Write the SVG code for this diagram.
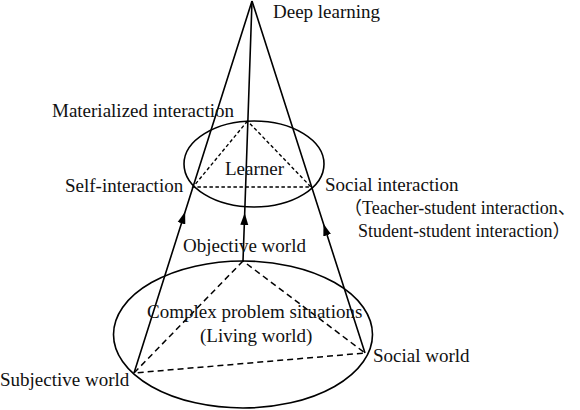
<svg xmlns="http://www.w3.org/2000/svg" width="580" height="410" viewBox="0 0 580 410">
  <defs>
    <style>
      .solid { fill: none; stroke: #000; stroke-width: 1.6; }
      .dash1 { fill: none; stroke: #000; stroke-width: 1.4; stroke-dasharray: 3.5 2.5; }
      .dash2 { fill: none; stroke: #000; stroke-width: 1.5; stroke-dasharray: 6 4; }
      .lbl { font-family: "Liberation Serif", "Times New Roman", "Noto Sans CJK SC", serif; font-size: 19px; fill: #111; }
      .sm { font-size: 18px; }
    </style>
    <marker id="arr" markerWidth="12" markerHeight="12" refX="6" refY="6" orient="auto" markerUnits="userSpaceOnUse">
      <path d="M0,2 L12,6 L0,10 Z" fill="#000"/>
    </marker>
  </defs>
  <rect width="580" height="410" fill="#fff"/>

  <g id="lower-base">
    <ellipse class="solid" cx="243" cy="334.5" rx="129.5" ry="73.5"/>
  </g>
  <g id="upper-learner">
    <ellipse class="solid" cx="254" cy="164" rx="70" ry="43"/>
  </g>

  <g id="connectors">
    <path class="dash1" d="M247.5,121 L193,187 L311,187 Z"/>
    <path class="dash2" d="M243,261 L134,373 L365,353 Z"/>
    <path class="solid" d="M134,373 L183.3,217.5 L252,1" marker-mid="url(#arr)"/>
    <path class="solid" d="M243,261 L244.5,219 L252,1" marker-mid="url(#arr)"/>
    <path class="solid" d="M365,353 L325.3,229.5 L252,1" marker-mid="url(#arr)"/>
  </g>

  <g id="deep-learning"><text class="lbl" x="273" y="18">Deep learning</text></g>
  <g id="materialized-interaction"><text class="lbl" x="52" y="117">Materialized interaction</text></g>
  <g id="learner"><text class="lbl" x="225" y="175" font-size="20">Learner</text></g>
  <g id="self-interaction"><text class="lbl" x="65" y="192">Self-interaction</text></g>
  <g id="social-interaction">
    <text class="lbl" x="325" y="191">Social interaction</text>
    <text class="lbl sm" x="344" y="214">（Teacher-student interaction、</text>
    <text class="lbl sm" x="358" y="237">Student-student interaction）</text>
  </g>
  <g id="objective-world"><text class="lbl" x="183" y="252">Objective world</text></g>
  <g id="complex-problem">
    <text class="lbl" x="147" y="318">Complex problem situations</text>
    <text class="lbl" x="200" y="342">(Living world)</text>
  </g>
  <g id="subjective-world"><text class="lbl" x="0" y="386">Subjective world</text></g>
  <g id="social-world"><text class="lbl" x="373" y="362">Social world</text></g>
</svg>
